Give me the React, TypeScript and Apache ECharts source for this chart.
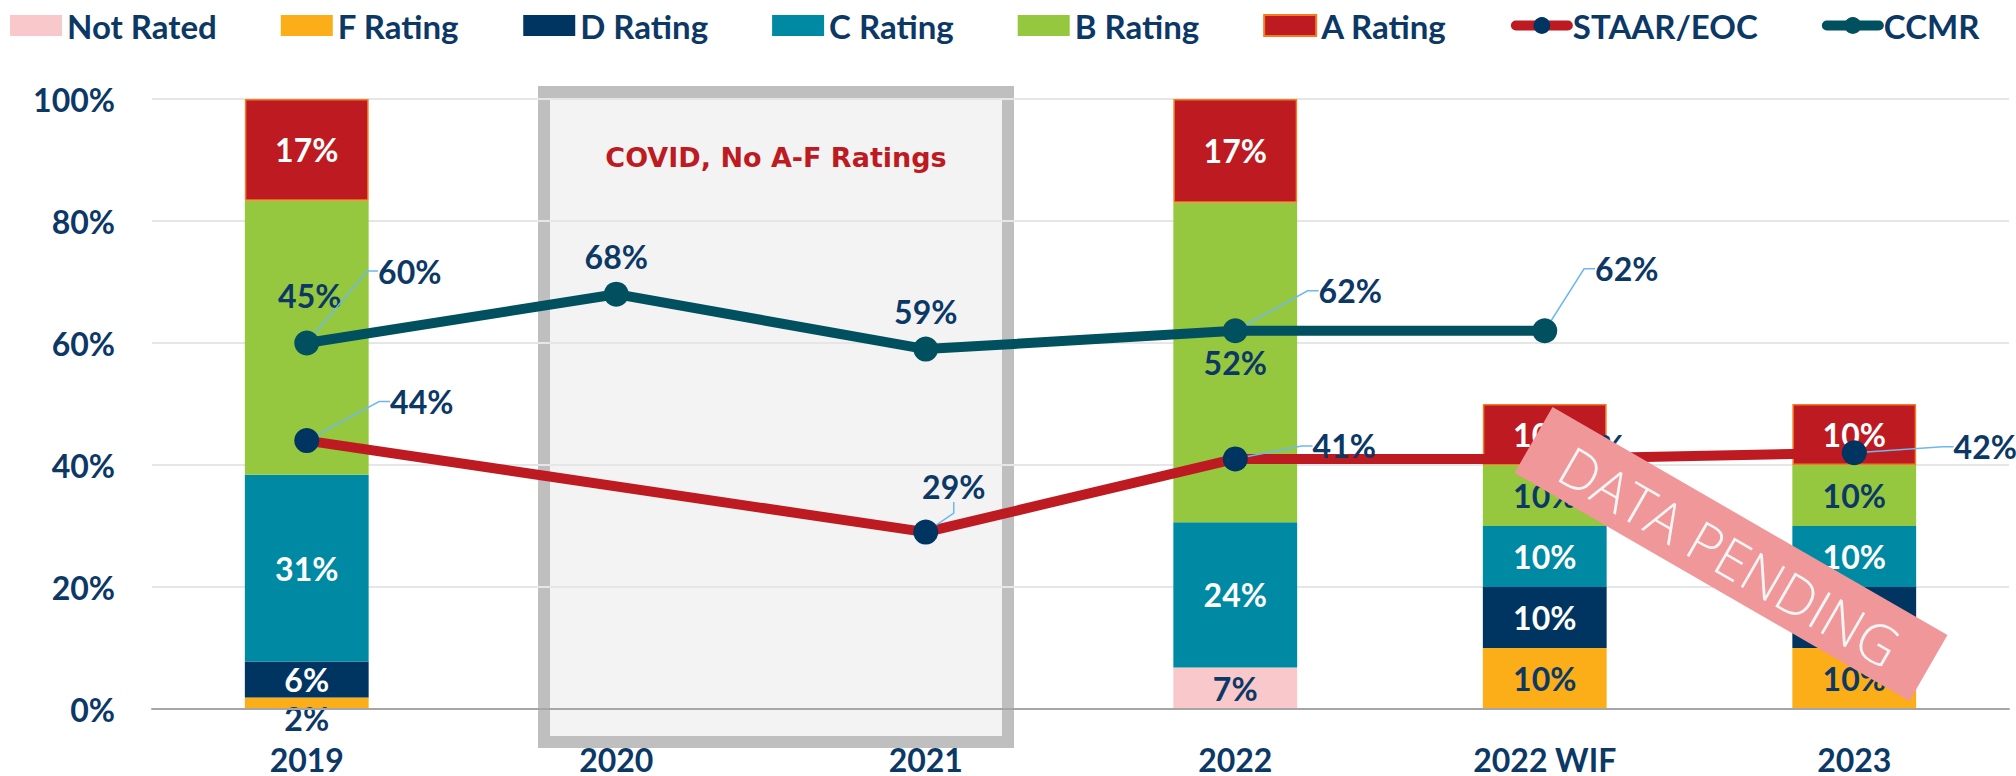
import React, { useEffect, useRef } from "react";
import * as echarts from "echarts";

// ---------- data ----------
const categories = ["2019", "2020", "2021", "2022", "2022 WIF", "2023"];
const notRated = [null, null, null, 6.8, null, null];
const fRating = [1.9, null, null, null, 10, 10];
const dRating = [5.9, null, null, null, 10, 10];
const cRating = [30.6, null, null, 23.8, 10, 10];
const bRating = [44.9, null, null, 52.4, 10, 10];
const aRating = [16.7, null, null, 17.0, 10, 10];
const staarEoc = [44, null, 29, 41, 41, 42];
const ccmr = [60, 68, 59, 62, 62, null];
const yMin = 0;
const yMax = 100;
const yStep = 20;

// ---------- layout (label offsets from point centre, leader flags) ----------
const ccmrLabelOffsets = [[103, -72], [0, -38], [0, -38], [115, -40], [82, -62], [0, 0]];
const ccmrLeaders = [true, false, false, true, true, false];
const staarLabelOffsets = [[115, -39], [0, 0], [28, -46], [109, -13], [48, -12], [131, -6]];
const staarLeaders = [true, false, true, true, true, true];
// bar label nudges: [seriesName, categoryIndex, dx, dy]
const barLabelNudges: [string, number, number, number][] = [
  ["F Rating", 0, 0, 15],
  ["B Rating", 0, 3, -42],
];

const NAVY = "#0C3866";
const FONT = "Lato";

function barSeries(name: string, values: (number | null)[], color: string, labelColor: string, extra: any = {}) {
  return {
    name,
    type: "bar",
    stack: "total",
    barWidth: "40%",
    data: values.map((v, i) => {
      if (v == null) return null;
      const item: any = { value: v };
      const n = barLabelNudges.find((b) => b[0] === name && b[1] === i);
      if (n) item.label = { offset: [n[2], n[3]] };
      return item;
    }),
    itemStyle: { color, ...(extra.itemStyle || {}) },
    label: {
      show: true,
      position: "inside",
      color: labelColor,
      fontFamily: FONT,
      fontWeight: "bold",
      fontSize: 32,
      formatter: (p: any) => (p.value == null ? "" : Math.round(p.value) + "%"),
    },
    emphasis: { disabled: true },
    z: 2,
  };
}

function lineSeries(name: string, values: (number | null)[], lineColor: string, dotColor: string, offsets: number[][], leaders: boolean[]) {
  return {
    name,
    type: "line",
    data: values.map((v, i) =>
      v == null ? null : { value: v, labelLine: { show: leaders[i] } }
    ),
    connectNulls: true,
    symbol: "circle",
    symbolSize: 25,
    showAllSymbol: true,
    lineStyle: { color: lineColor, width: 10 },
    itemStyle: { color: dotColor },
    label: {
      show: true,
      position: "top",
      color: NAVY,
      fontFamily: FONT,
      fontWeight: "bold",
      fontSize: 32,
      padding: [0, 4],
      formatter: (p: any) => p.value + "%",
    },
    labelLine: {
      show: true,
      length2: 11,
      lineStyle: { color: "#6DB8EF", width: 1.5 },
    },
    labelLayout: (params: any) => {
      const o = offsets[params.dataIndex] || [0, 0];
      const cx = params.rect.x + params.rect.width / 2;
      const cy = params.rect.y + params.rect.height / 2;
      return { x: cx + o[0], y: cy + o[1], align: "center", verticalAlign: "middle" };
    },
    emphasis: { disabled: true },
    z: 5,
  };
}

export default function App() {
  const ref = useRef<HTMLDivElement>(null);
  useEffect(() => {
    const chart = echarts.init(ref.current!, undefined, { renderer: "svg" });
    const option: any = {
      animation: false,
      textStyle: { fontFamily: FONT },
      legend: {
        left: 5,
        top: 4,
        itemWidth: 52,
        itemHeight: 21,
        itemGap: 64,
        selectedMode: false,
        textStyle: { color: NAVY, fontFamily: FONT, fontWeight: "bold", fontSize: 33 },
        data: [
          { name: "Not Rated", icon: "rect" },
          { name: "F Rating", icon: "rect" },
          { name: "D Rating", icon: "rect" },
          { name: "C Rating", icon: "rect" },
          { name: "B Rating", icon: "rect" },
          { name: "A Rating", icon: "rect" },
          { name: "STAAR/EOC", lineStyle: { width: 10, cap: "round" } },
          { name: "CCMR", lineStyle: { width: 10, cap: "round" } },
        ],
      },
      grid: { left: 152, right: 7, top: 99, bottom: 67, containLabel: false },
      xAxis: {
        type: "category",
        data: categories,
        axisTick: { show: false },
        axisLine: { lineStyle: { color: "#A6A6A6", width: 2 } },
        axisLabel: {
          color: NAVY,
          fontFamily: FONT,
          fontWeight: "bold",
          fontSize: 32,
          lineHeight: 30,
          margin: 35,
        },
        z: 3,
      },
      yAxis: {
        type: "value",
        min: yMin,
        max: yMax,
        interval: yStep,
        axisLine: { show: false },
        axisTick: { show: false },
        splitLine: { lineStyle: { color: "#E6E6E6", width: 2 } },
        axisLabel: {
          color: NAVY,
          fontFamily: FONT,
          fontWeight: "bold",
          fontSize: 32,
          margin: 37,
          formatter: "{value}%",
        },
      },
      series: [
        barSeries("Not Rated", notRated, "#F8C8CB", NAVY),
        barSeries("F Rating", fRating, "#FBAE18", NAVY),
        barSeries("D Rating", dRating, "#003562", "#FFFFFF"),
        barSeries("C Rating", cRating, "#0089A3", "#FFFFFF"),
        barSeries("B Rating", bRating, "#95C83E", NAVY),
        barSeries("A Rating", aRating, "#BD1B21", "#FFFFFF", {
          itemStyle: { borderColor: "#F47B20", borderWidth: 1.5 },
        }),
        lineSeries("STAAR/EOC", staarEoc, "#BD1B21", "#003562", staarLabelOffsets, staarLeaders),
        lineSeries("CCMR", ccmr, "#00505F", "#00505F", ccmrLabelOffsets, ccmrLeaders),
      ],
      graphic: [
        {
          type: "rect",
          z: -1,
          silent: true,
          shape: { x: 544, y: 92, width: 464, height: 650 },
          style: { fill: "#F3F3F3", stroke: "#BFBFBF", lineWidth: 12 },
        },
        {
          type: "text",
          z: 1,
          silent: true,
          x: 776,
          y: 157,
          style: {
            text: "COVID, No A-F Ratings",
            fill: "#BD1B21",
            font: 'bold 27px "DejaVu Sans"',
            align: "center",
            verticalAlign: "middle",
          },
        },
        {
          type: "group",
          x: 1731,
          y: 554,
          rotation: -Math.PI / 6,
          z: 100,
          silent: true,
          children: [
            {
              type: "rect",
              z: 100,
              shape: { x: -228, y: -38, width: 456, height: 76 },
              style: { fill: "#F0979A" },
            },
            {
              type: "text",
              z: 101,
              x: 0,
              y: 2,
              style: {
                text: "DATA PENDING",
                fill: "#F5F5F5",
                font: '300 55px "Open Sans"',
                align: "center",
                verticalAlign: "middle",
              },
            },
          ],
        },
      ],
    };
    chart.setOption(option);
    return () => chart.dispose();
  }, []);
  return (
    <div
      ref={ref}
      style={{ position: "absolute", left: 0, top: 0, width: 2016, height: 776 }}
    />
  );
}
